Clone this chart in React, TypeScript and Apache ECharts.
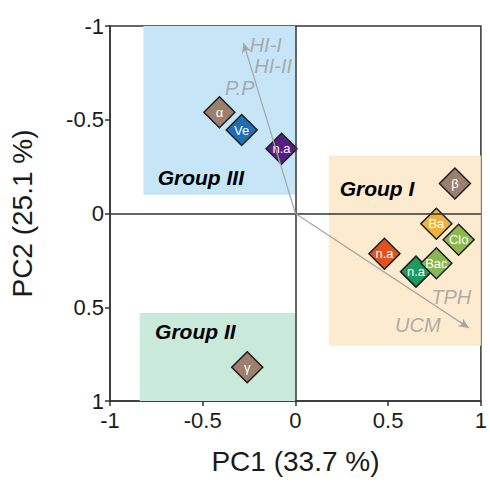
import React, { useEffect, useRef } from "react";
import * as echarts from "echarts";

// Sample scores on PC1 / PC2
const sampleNames = ["α", "Ve", "n.a", "β", "Clo", "Ba", "n.a", "n.a", "Bac", "γ"];
const samplePC1 = [-0.41, -0.29, -0.075, 0.86, 0.88, 0.76, 0.48, 0.65, 0.76, -0.26];
const samplePC2 = [-0.54, -0.445, -0.345, -0.16, 0.14, 0.055, 0.215, 0.31, 0.265, 0.82];
const sampleColors = [
  "#9c7f6d", "#1f6fb7", "#5a1c86", "#9c7f6d", "#8db84b",
  "#f0b23c", "#e1521f", "#1e9a5c", "#88b853", "#9c7f6d",
];

// Variable loadings (arrows) and their labels
const arrowEnds = [
  [-0.28, -0.91],
  [0.935, 0.61],
];
const loadingNames = ["HI-I", "HI-II", "P.P", "TPH", "UCM"];
const loadingPC1 = [-0.16, -0.12, -0.3, 0.84, 0.66];
const loadingPC2 = [-0.9, -0.785, -0.67, 0.445, 0.595];

// Group regions [x0, y0, x1, y1] and titles
const groupNames = ["Group III", "Group I", "Group II"];
const groupBoxes = [
  [-0.82, -1, 0, -0.1],
  [0.18, -0.31, 1, 0.705],
  [-0.84, 0.53, 0, 1],
];
const groupColors = ["#c6e6f7", "#fdebd0", "#c9e9da"];
const groupLabelPC1 = [-0.51, 0.44, -0.54];
const groupLabelPC2 = [-0.19, -0.135, 0.63];

const FONT = "Liberation Sans, Arial, sans-serif";

export default function App() {
  const ref = useRef<HTMLDivElement>(null);

  useEffect(() => {
    if (!ref.current) return;
    const chart = echarts.init(ref.current, undefined, { renderer: "svg" });

    const axisCommon = {
      type: "value" as const,
      min: -1,
      max: 1,
      interval: 0.5,
      splitLine: { show: false },
      axisLine: { show: true, onZero: false, lineStyle: { color: "#333", width: 1.5 } },
      axisTick: { show: true, inside: false, length: 5, lineStyle: { color: "#333", width: 1.5 } },
      axisLabel: { fontSize: 22, color: "#1a1a1a", fontFamily: FONT },
      nameLocation: "middle" as const,
      nameTextStyle: { fontSize: 28, color: "#1a1a1a", fontFamily: FONT },
    };

    chart.setOption({
      animation: false,
      backgroundColor: "#fff",
      grid: {
        left: 108,
        right: 6,
        top: 26,
        bottom: 82,
        show: true,
        borderColor: "#333",
        borderWidth: 1.5,
        backgroundColor: "transparent",
      },
      xAxis: {
        ...axisCommon,
        name: "PC1 (33.7 %)",
        nameGap: 46,
        axisLabel: { ...axisCommon.axisLabel, margin: 8 },
      },
      yAxis: {
        ...axisCommon,
        inverse: true,
        name: "PC2 (25.1 %)",
        nameGap: 74,
        axisLabel: { ...axisCommon.axisLabel, margin: 6 },
      },
      series: [
        {
          type: "scatter",
          silent: true,
          data: [],
          z: 1,
          markArea: {
            silent: true,
            data: groupBoxes.map((b, i) => [
              { coord: [b[0], b[1]], itemStyle: { color: groupColors[i], opacity: 1 } },
              { coord: [b[2], b[3]] },
            ]),
          },
          markLine: {
            silent: true,
            symbol: ["none", "none"],
            label: { show: false },
            lineStyle: { color: "#333", width: 1.5, type: "solid" },
            data: [{ xAxis: 0 }, { yAxis: 0 }],
          },
        },
        {
          type: "scatter",
          silent: true,
          data: [],
          z: 2,
          markLine: {
            silent: true,
            symbol: ["none", "arrow"],
            symbolSize: [7, 10],
            label: { show: false },
            lineStyle: { color: "#a6a6a6", width: 1.2, type: "solid" },
            data: arrowEnds.map((e) => [{ coord: [0, 0] }, { coord: e }]),
          },
        },
        {
          type: "scatter",
          silent: true,
          z: 3,
          symbolSize: 0,
          data: loadingNames.map((n, i) => ({ value: [loadingPC1[i], loadingPC2[i]], name: n })),
          label: {
            show: true,
            position: "inside",
            formatter: (p: any) => p.name,
            fontSize: 20,
            fontStyle: "italic",
            color: "#9a9a9a",
            fontFamily: FONT,
          },
        },
        {
          type: "scatter",
          silent: true,
          z: 3,
          symbolSize: 0,
          data: groupNames.map((n, i) => ({ value: [groupLabelPC1[i], groupLabelPC2[i]], name: n })),
          label: {
            show: true,
            position: "inside",
            formatter: (p: any) => p.name,
            fontSize: 21,
            fontStyle: "italic",
            fontWeight: 900,
            color: "#000000",
            opacity: 1,
            fontFamily: FONT,
          },
        },
        {
          type: "scatter",
          z: 4,
          symbol: "diamond",
          symbolSize: 31,
          data: sampleNames.map((n, i) => ({
            value: [samplePC1[i], samplePC2[i]],
            name: n,
            itemStyle: { color: sampleColors[i] },
          })),
          itemStyle: { borderColor: "#1e1e1e", borderWidth: 1.5, opacity: 1 },
          label: {
            show: true,
            position: "inside",
            formatter: (p: any) => p.name,
            fontSize: 13,
            color: "#ffffff",
            fontFamily: FONT,
          },
        },
      ],
    });

    return () => chart.dispose();
  }, []);

  return (
    <div
      ref={ref}
      style={{ width: 490, height: 483, position: "fixed", left: 0, top: 0 }}
    />
  );
}
